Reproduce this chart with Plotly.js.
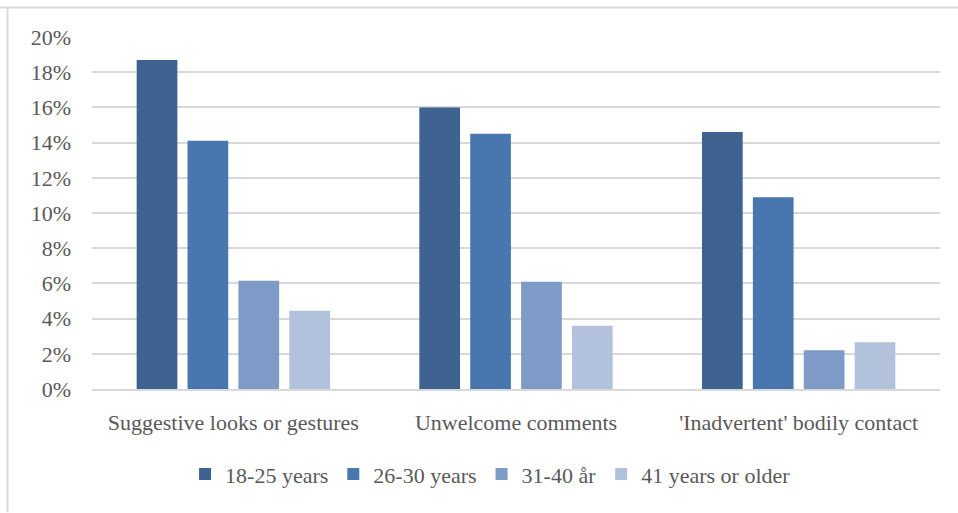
<!DOCTYPE html>
<html>
<head>
<meta charset="utf-8">
<script src="https://cdn.plot.ly/plotly-3.0.1.min.js"></script>
<style>html,body{margin:0;padding:0;background:#fff;}#chart{width:958px;height:513px;}</style>
</head>
<body>
<div id="chart"></div>
<script>
const categories = ["Suggestive looks or gestures", "Unwelcome comments", "'Inadvertent' bodily contact"];
const seriesNames = ["18-25 years", "26-30 years", "31-40 år", "41 years or older"];
const age18_25 = [18.7, 16.0, 14.6];
const age26_30 = [14.1, 14.5, 10.9];
const age31_40 = [6.15, 6.1, 2.2];
const age41plus = [4.45, 3.6, 2.65];
const yTicks = [0, 2, 4, 6, 8, 10, 12, 14, 16, 18, 20];

const colors = ["#3E6390", "#4877B0", "#7E9BC8", "#B3C2DC"];
const values = [age18_25, age26_30, age31_40, age41plus];
const font = "'Liberation Serif', 'DejaVu Serif', serif";

const traces = values.map((v, i) => ({
  type: "bar",
  name: seriesNames[i],
  x: categories,
  y: v,
  marker: {color: colors[i]},
  hoverinfo: "skip"
}));

const layout = {
  width: 958, height: 513,
  margin: {l: 92, r: 18, t: 36.5, b: 123.5},
  paper_bgcolor: "#ffffff",
  plot_bgcolor: "#ffffff",
  barmode: "group",
  bargap: 0.28,
  bargroupgap: 0.2,
  font: {family: font, size: 21, color: "#595959"},
  xaxis: {
    type: "category",
    showgrid: false,
    showline: true, linecolor: "#d9d9d9", linewidth: 2,
    ticks: "", ticklabelstandoff: 13,
    tickfont: {family: font, size: 22, color: "#595959"}
  },
  yaxis: {
    range: [0, 20],
    tickvals: yTicks,
    ticktext: yTicks.map(t => t + "%"),
    showgrid: true, gridcolor: "#d9d9d9", gridwidth: 2,
    zeroline: false, showline: false,
    ticks: "", ticklabelstandoff: 20,
    tickfont: {family: font, size: 22, color: "#595959"}
  },
  legend: {
    orientation: "h",
    x: 0.47, xanchor: "center",
    y: -0.242, yanchor: "middle",
    font: {family: font, size: 22, color: "#595959"},
    itemwidth: 30,
    traceorder: "normal"
  },
  shapes: [
    {type: "line", xref: "paper", yref: "paper", x0: -92/848, x1: 1 + 18/848, y0: 1 + 29.5/353, y1: 1 + 29.5/353, line: {color: "#d9d9d9", width: 2}},
    {type: "line", xref: "paper", yref: "paper", x0: -84.5/848, x1: -84.5/848, y0: -123.5/353, y1: 1 + 29.5/353, line: {color: "#d9d9d9", width: 2}}
  ],
  showlegend: true
};

Plotly.newPlot("chart", traces, layout, {staticPlot: true, displayModeBar: false});
</script>
</body>
</html>
